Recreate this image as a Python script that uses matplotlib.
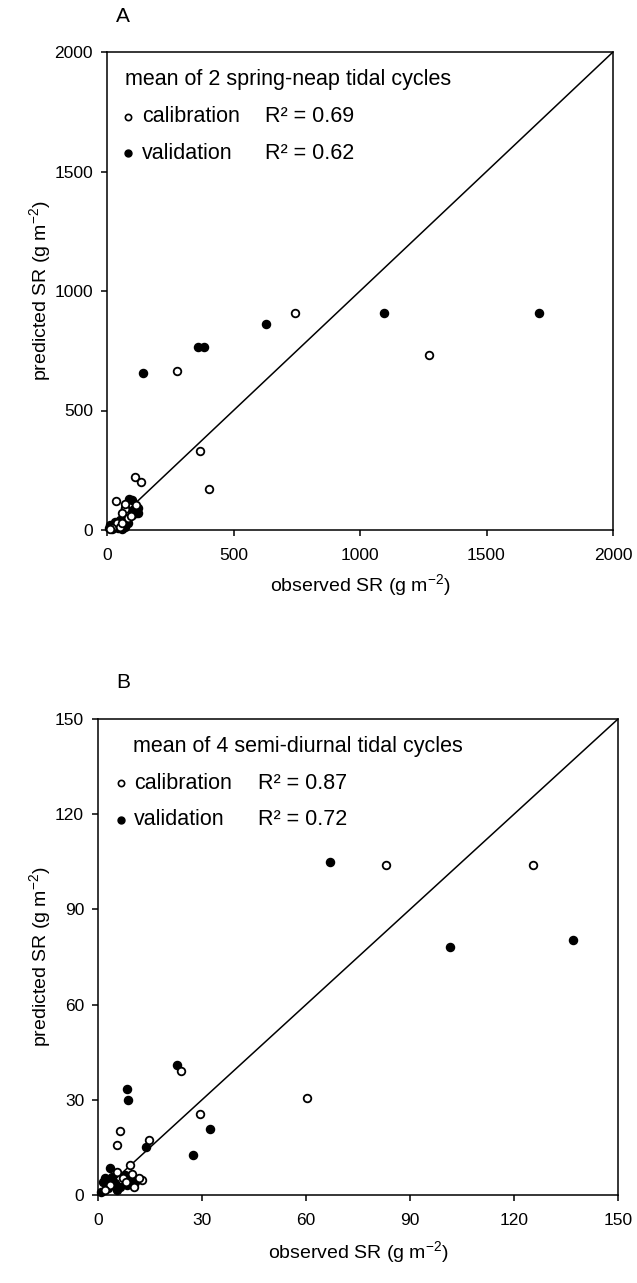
import matplotlib
matplotlib.use("Agg")
import matplotlib.pyplot as plt

plt.rcParams["font.family"] = ["Liberation Sans", "DejaVu Sans"]
plt.rcParams["mathtext.fontset"] = "custom"
plt.rcParams["mathtext.rm"] = "Liberation Sans"
plt.rcParams["mathtext.it"] = "Liberation Sans:italic"
plt.rcParams["axes.linewidth"] = 1.1

# panel A: mean of 2 spring-neap tidal cycles (g m-2)
a_cal_obs = [745, 1273, 278, 367, 402, 112, 134, 36, 72, 115, 71, 58, 84, 38, 51, 20, 95, 60, 10]
a_cal_pred = [907, 731, 665, 332, 172, 222, 201, 123, 87, 103, 107, 70, 49, 28, 14, 10, 60, 30, 5]
a_val_obs = [628, 1095, 1706, 141, 361, 383, 88, 97, 124, 71, 104, 124, 115, 97, 64, 51, 32,
             12, 24, 45, 71, 84, 8, 20, 40, 60]
a_val_pred = [862, 907, 907, 658, 767, 767, 130, 125, 70, 91, 84, 91, 71, 63, 56, 42, 35,
              21, 14, 7, 14, 28, 7, 3, 20, 5]

# panel B: mean of 4 semi-diurnal tidal cycles (g m-2)
b_cal_obs = [83.0, 125.6, 60.4, 23.9, 29.4, 6.3, 5.4, 14.8, 9.1, 9.9, 12.6, 11.7, 5.4, 7.3,
             3.5, 2.0, 8.0, 10.5]
b_cal_pred = [103.9, 103.9, 30.5, 39.2, 25.5, 20.2, 15.7, 17.3, 9.5, 6.6, 4.7, 5.2, 7.3, 5.3,
              3.2, 1.5, 4.0, 2.5]
b_val_obs = [66.9, 101.5, 137.1, 22.8, 8.3, 8.7, 32.3, 27.3, 13.8, 3.5, 2.0, 1.5, 4.9, 6.3,
             8.3, 10.7, 7.8, 3.9, 3.0, 5.5, 9.5, 1.0]
b_val_pred = [104.9, 78.2, 80.4, 41.0, 33.3, 29.9, 20.7, 12.5, 15.2, 8.4, 5.3, 4.2, 3.7, 2.6,
              3.2, 4.2, 6.3, 5.8, 2.2, 1.5, 5.0, 1.0]

a_ticks = [0, 500, 1000, 1500, 2000]
b_ticks = [0, 30, 60, 90, 120, 150]

LEG_FS = 15.5


def draw_panel(ax, cal_x, cal_y, val_x, val_y, ticks, title, r2_cal, r2_val, leg, lab_xy):
    lim = ticks[-1]
    ax.plot([0, lim], [0, lim], color="black", lw=1.1, zorder=1)
    ax.scatter(val_x, val_y, s=34, c="black", edgecolors="black", linewidths=1.0, zorder=2,
               clip_on=False)
    ax.scatter(cal_x, cal_y, s=30, facecolors="white", edgecolors="black", linewidths=1.3,
               zorder=3, clip_on=False)
    ax.set_xlim(0, lim)
    ax.set_ylim(0, lim)
    ax.set_xticks(ticks)
    ax.set_yticks(ticks)
    ax.tick_params(direction="out", length=4, width=1.1, labelsize=12.5, top=False, right=False)
    ax.tick_params(axis="x", pad=9)
    ax.tick_params(axis="y", pad=6)
    ax.set_xlabel("observed SR (g m$^{-2}$)", fontsize=14, va="center")
    ax.set_ylabel("predicted SR (g m$^{-2}$)", fontsize=14, va="center")
    ax.xaxis.set_label_coords(0.5, lab_xy[1])
    ax.yaxis.set_label_coords(lab_xy[0], 0.5)

    tx, mx, lx, rx = leg
    ax.text(tx, 0.942, title, transform=ax.transAxes, fontsize=LEG_FS, va="center", ha="left")
    ax.plot([mx], [0.865], "o", ms=4.5, mfc="white", mec="black", mew=1.2,
            transform=ax.transAxes)
    ax.plot([mx], [0.788], "o", ms=5, color="black", transform=ax.transAxes)
    ax.text(lx, 0.865, "calibration", transform=ax.transAxes, fontsize=LEG_FS, va="center")
    ax.text(lx, 0.788, "validation", transform=ax.transAxes, fontsize=LEG_FS, va="center")
    ax.text(rx, 0.865, "R² = " + r2_cal, transform=ax.transAxes, fontsize=LEG_FS, va="center")
    ax.text(rx, 0.788, "R² = " + r2_val, transform=ax.transAxes, fontsize=LEG_FS, va="center")


fig = plt.figure(figsize=(6.37, 12.83), dpi=100)
ax_a = fig.add_axes([107 / 637, 1 - 530 / 1283, 506 / 637, 478 / 1283])
ax_b = fig.add_axes([98 / 637, 1 - 1195 / 1283, 520 / 637, 476 / 1283])

draw_panel(ax_a, a_cal_obs, a_cal_pred, a_val_obs, a_val_pred, a_ticks,
           "mean of 2 spring-neap tidal cycles", "0.69", "0.62",
           (0.036, 0.042, 0.070, 0.312), (-0.132, -0.115))
draw_panel(ax_b, b_cal_obs, b_cal_pred, b_val_obs, b_val_pred, b_ticks,
           "mean of 4 semi-diurnal tidal cycles", "0.87", "0.72",
           (0.067, 0.044, 0.069, 0.308), (-0.112, -0.12))

fig.text(123 / 637, 1 - 16 / 1283, "A", fontsize=15, ha="center", va="center")
fig.text(123 / 637, 1 - 682 / 1283, "B", fontsize=15, ha="center", va="center")

fig.savefig("out.png", dpi=100)
